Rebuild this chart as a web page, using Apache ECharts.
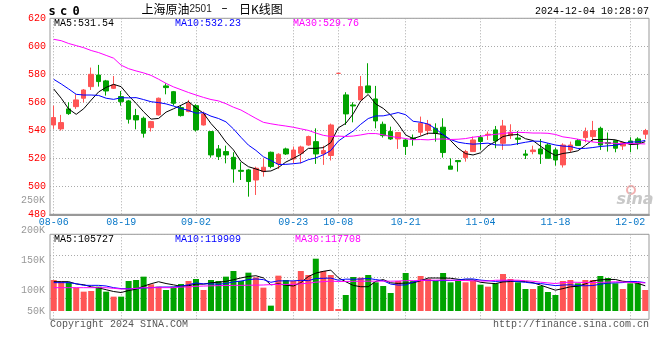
<!DOCTYPE html>
<html><head><meta charset="utf-8">
<script src="https://cdn.jsdelivr.net/npm/echarts@6/dist/echarts.min.js"></script>
<style>html,body{margin:0;padding:0;background:#fff}#c{width:660px;height:360px}</style>
</head><body><div id="c"></div><script>
const dates = ['08-06','08-07','08-08','08-09','08-12','08-13','08-14','08-15','08-16','08-19',
'08-20','08-21','08-22','08-23','08-26','08-27','08-28','08-29','08-30','09-02',
'09-03','09-04','09-05','09-06','09-09','09-10','09-11','09-12','09-13','09-18',
'09-19','09-20','09-23','09-24','09-25','09-26','09-27','09-30','10-08','10-09',
'10-10','10-11','10-14','10-15','10-16','10-17','10-18','10-21','10-22','10-23',
'10-24','10-25','10-28','10-29','10-30','10-31','11-01','11-04','11-05','11-06',
'11-07','11-08','11-11','11-12','11-13','11-14','11-15','11-18','11-19','11-20',
'11-21','11-22','11-25','11-26','11-27','11-28','11-29','12-02','12-03','12-04'];
const labelDates = ['08-06','08-19','09-02','09-23','10-08','10-21','11-04','11-18','12-02'];

const opens = [543.8,541.0,555.3,556.9,562.9,571.2,579.5,575.3,570.0,564.1,
561.0,550.5,548.6,541.9,551.0,571.7,567.6,556.2,553.4,557.6,
543.8,539.1,526.7,524.8,520.7,511.4,511.7,504.5,510.5,524.3,
516.0,526.7,519.5,523.6,529.5,531.9,523.1,522.0,580.7,565.3,
558.1,561.7,571.7,562.4,544.3,539.1,533.8,533.1,534.5,538.6,
539.8,541.4,542.2,514.5,518.4,520.5,524.8,534.8,536.7,540.3,
530.7,536.2,534.5,523.1,524.8,526.7,529.5,526.0,515.3,525.9,
532.6,534.8,535.5,541.4,531.2,532.6,528.8,532.4,533.8,537.2];
const closes = [549.1,545.5,551.9,561.7,568.8,580.0,574.8,568.1,572.4,560.5,
547.9,547.4,537.9,546.2,562.9,570.5,559.3,550.5,559.3,540.3,
551.7,522.4,521.2,522.4,512.4,510.7,503.4,512.9,513.6,514.1,
522.9,523.1,525.9,528.1,535.5,523.1,525.5,543.8,580.7,551.7,
557.4,571.2,566.9,546.7,536.2,533.8,538.4,528.4,533.5,545.0,
544.3,537.9,524.1,512.2,517.6,524.8,533.1,532.0,537.2,532.4,
543.1,538.6,533.6,522.2,525.9,523.1,520.0,518.8,529.5,529.5,
529.1,539.1,539.8,529.5,530.5,527.2,531.2,530.7,530.7,539.8];
const lows = [541.0,539.8,551.0,555.3,560.0,568.8,571.2,564.8,569.5,557.6,
544.8,540.7,534.8,539.1,550.5,565.7,557.6,549.8,552.9,539.1,
543.4,520.5,518.8,516.4,502.6,504.5,492.6,493.8,506.9,512.9,
512.4,522.4,516.4,516.4,529.0,516.0,515.3,518.4,580.7,543.8,
545.7,561.7,566.4,541.4,534.8,533.1,526.7,522.4,529.0,536.2,
536.7,531.9,520.5,512.2,510.5,517.6,524.8,526.0,533.1,527.2,
526.0,533.8,529.5,519.5,522.9,516.0,520.0,514.8,513.4,524.1,
529.1,531.4,531.9,526.0,524.8,524.3,526.0,524.3,526.4,533.8];
const highs = [557.6,551.0,560.0,565.7,569.5,584.8,586.7,576.0,578.8,568.1,
561.7,555.3,549.8,546.7,563.4,573.6,568.1,558.1,561.7,558.6,
553.4,539.1,529.5,529.0,524.3,517.2,512.4,514.0,520.0,524.8,
523.6,527.6,528.4,529.0,536.2,541.4,529.0,544.8,580.7,567.2,
560.0,578.8,587.9,571.7,546.2,542.6,538.6,533.8,537.0,549.8,
547.4,545.0,548.6,520.0,518.4,526.0,535.5,536.7,539.1,543.1,
547.4,544.3,539.5,526.0,529.0,533.8,530.7,527.6,530.7,531.9,
533.8,541.9,546.7,542.6,538.4,533.1,531.9,535.0,535.0,541.0];
const volumes = [130500,123500,120700,98200,81400,84200,102500,81400,60400,60400,
126300,130500,144600,112300,102500,88400,102500,113700,126300,134700,
88400,130500,126300,144600,168400,126300,161400,141800,98200,22500,
148800,130500,126300,168400,151600,220300,168400,151600,8400,67400,
143200,140400,151600,120700,105300,75800,126300,160000,126300,147400,
134700,126300,160000,120700,126300,120700,126300,110900,102500,116500,
155800,134700,120700,92600,92600,105300,80000,67400,126300,130500,
116500,130500,130500,147400,138900,116500,92600,116500,116500,88400];

// MA values before the window is full
const priceMA5Early = [569.5,562.9,555.2,551.4];
const priceMA10Early = [576.4,573.1,569.5,565.7,565.2,565.2,564.9,562.9,562.1];
const priceMA30Early = [605,604,602,600.5,599,597,595.5,593.5,591.5,586.5,584,582.4,581,579.2,576.5,573.5,571,569,567,565.2,563.5,562,561,559,556.5,554.5,551.5,548.5,545.7];
const volMA5Early = [123500,123500,123500,113700];
const volMA10Early = [119300,119300,119300,115000,108000,108000,108000,105300,98200];
const volMA30Early = [98200,98200,98200,98200,98200,98200,98200,98200,95400,92600,92600,95400,98200,98200,98200,98200,98200,101000,101000,104000,105000,106000,106700,107500,108000,108000,108500,109000,109500];

const priceTickMin = 480, priceTickMax = 620, priceTickStep = 20;
const volTickLabels = ['50K','100K','150K','200K','250K'];
const priceLegend = ['MA5:531.54','MA10:532.23','MA30:529.76'];
const volLegend = ['MA5:105727','MA10:119909','MA30:117708'];

function movingAvg(vals, n, early) {
  return vals.map((v, i) => {
    if (i < early.length) return early[i];
    let s = 0; for (let k = i - n + 1; k <= i; k++) s += vals[k];
    return +(s / n).toFixed(2);
  });
}

const UP = '#ff5555', DOWN = '#00a300';
const labelIdx = labelDates.map(d => dates.indexOf(d));
const isLabel = (i) => labelIdx.indexOf(i) >= 0;
const candles = dates.map((d, i) => [opens[i], closes[i], lows[i], highs[i]]);
const isUp = (i) => closes[i] > opens[i] || (closes[i] === opens[i] && (i === 0 || closes[i] >= closes[i - 1]));
const volData = volumes.map((v, i) => ({ value: v, itemStyle: { color: isUp(i) ? UP : DOWN } }));

const MONO = "'Liberation Mono', 'DejaVu Sans Mono', monospace";
const dotted = { color: '#aaaaaa', type: [1, 2], width: 1 };

function txt(x, y, text, fill, font, align) {
  return { type: 'text', x: x, y: y, silent: true,
    style: { text: text, fill: fill, font: font, align: align || 'left', verticalAlign: 'middle' } };
}

const chart = echarts.init(document.getElementById('c'), null, { renderer: 'canvas' });
const lineS = (name, data, color, xi, yi) => ({ name, type: 'line', data, xAxisIndex: xi, yAxisIndex: yi,
  symbol: 'none', smooth: false, lineStyle: { color, width: 1 }, itemStyle: { color }, z: 5, silent: true });

chart.setOption({
  animation: false,
  backgroundColor: '#fff',
  grid: [
    { left: 50, right: 11, top: 18.3, height: 196, show: true, borderColor: '#999', borderWidth: 1 },
    { left: 50, right: 11, top: 234.3, height: 85, show: true, borderColor: '#999', borderWidth: 1 },
    { left: 50, right: 11, top: 200.7, height: 119.3, show: false }
  ],
  xAxis: [
    { type: 'category', gridIndex: 0, data: dates, boundaryGap: true,
      axisLine: { show: true, lineStyle: { color: '#999', width: 2 } }, axisTick: { show: false },
      axisLabel: { interval: (i) => isLabel(i), color: '#0a78c8', fontFamily: MONO, fontSize: 10, margin: 3 },
      splitLine: { show: true, interval: (i) => isLabel(i), alignWithLabel: true, lineStyle: dotted } },
    { type: 'category', gridIndex: 1, data: dates, boundaryGap: true,
      axisLine: { show: false }, axisTick: { show: false }, axisLabel: { show: false },
      splitLine: { show: true, interval: (i) => isLabel(i), alignWithLabel: true, lineStyle: dotted } },
    { type: 'category', gridIndex: 2, data: [''], show: false }
  ],
  yAxis: [
    { type: 'value', gridIndex: 0, min: priceTickMin, max: priceTickMax, interval: priceTickStep,
      axisLine: { show: false }, axisTick: { show: false },
      axisLabel: { color: '#ff0000', fontFamily: MONO, fontSize: 10, margin: 4, padding: [0, 0, 3, 0] },
      splitLine: { show: true, lineStyle: dotted } },
    { type: 'value', gridIndex: 1, min: -35000, max: 323000, show: false, splitLine: { show: false } },
    { type: 'value', gridIndex: 1, min: 0, max: 4, interval: 1,
      axisLine: { show: false }, axisTick: { show: false }, axisLabel: { show: false },
      splitLine: { show: true, lineStyle: dotted } },
    { type: 'category', gridIndex: 2, data: volTickLabels, boundaryGap: false,
      axisLine: { show: false }, axisTick: { show: false }, splitLine: { show: false },
      axisLabel: { color: '#999', fontFamily: MONO, fontSize: 10, margin: 5, interval: 0,
        formatter: (v) => v === volTickLabels[0] ? '{s|' + v + '}' : v,
        rich: { s: { color: '#999', fontFamily: MONO, fontSize: 10, padding: [0, 0, 18, 0] } } } }
  ],
  series: [
    { name: 'K', type: 'candlestick', xAxisIndex: 0, yAxisIndex: 0, data: candles, barWidth: 5,
      itemStyle: { color: UP, color0: DOWN, borderColor: UP, borderColor0: DOWN, borderWidth: 1 }, silent: true },
    lineS('MA5', movingAvg(closes, 5, priceMA5Early), '#000000', 0, 0),
    lineS('MA10', movingAvg(closes, 10, priceMA10Early), '#0000ff', 0, 0),
    lineS('MA30', movingAvg(closes, 30, priceMA30Early), '#ff00ff', 0, 0),
    { name: 'VOL', type: 'bar', xAxisIndex: 1, yAxisIndex: 1, data: volData, barWidth: 6, silent: true },
    lineS('VMA5', movingAvg(volumes, 5, volMA5Early), '#000000', 1, 1),
    lineS('VMA10', movingAvg(volumes, 10, volMA10Early), '#0000ff', 1, 1),
    lineS('VMA30', movingAvg(volumes, 30, volMA30Early), '#ff00ff', 1, 1)
  ],
  graphic: [
    txt(48.5, 11.5, 's', '#000', "bold 12px 'DejaVu Sans Mono'"),
    txt(60, 11.5, 'c', '#000', "bold 12px 'DejaVu Sans Mono'"),
    txt(72.5, 11.5, '0', '#000', "bold 12px 'DejaVu Sans Mono'"),
    txt(141.5, 9, '上海原油', '#000', "12px 'Noto Sans CJK SC'"),
    txt(189.5, 9.5, '2501', '#222', "10px 'Liberation Sans'"),
    txt(224.5, 9, '–', '#000', "12px 'DejaVu Sans'", 'center'),
    txt(239, 9, '日K线图', '#000', "12px 'Noto Sans CJK SC'"),
    txt(649, 11.5, '2024-12-04 10:28:07', '#000', '10px ' + MONO, 'right'),
    txt(54, 23.5, priceLegend[0], '#000000', '10px ' + MONO),
    txt(175, 23.5, priceLegend[1], '#0000ff', '10px ' + MONO),
    txt(293, 23.5, priceLegend[2], '#ff00ff', '10px ' + MONO),
    txt(54, 239, volLegend[0], '#000000', '10px ' + MONO),
    txt(175, 239, volLegend[1], '#0000ff', '10px ' + MONO),
    txt(295, 239, volLegend[2], '#ff00ff', '10px ' + MONO),
    txt(50, 324, 'Copyright 2024 SINA.COM', '#555', '10px ' + MONO),
    txt(649, 324, 'http://finance.sina.com.cn', '#555', '10px ' + MONO, 'right'),
    { type: 'circle', shape: { cx: 631, cy: 190, r: 4 }, silent: true, style: { fill: 'none', stroke: '#f2b0b0', lineWidth: 2 } },
    txt(635, 200, 'sina', '#c8c8c8', "italic bold 16px 'DejaVu Sans'", 'center')
  ]
});
</script></body></html>
